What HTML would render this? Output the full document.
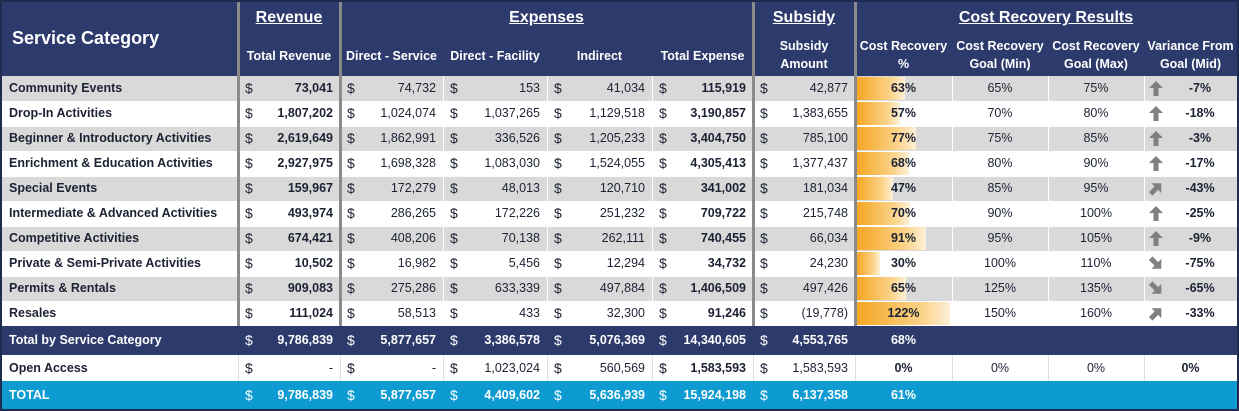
<!DOCTYPE html>
<html><head><meta charset="utf-8">
<style>
body{margin:0;background:#fff;}
#t{position:relative;width:1239px;height:411px;overflow:hidden;background:#1f2b4f;font-family:"Liberation Sans",Arial,sans-serif;color:#1c2233;}
.c{position:absolute;box-sizing:border-box;white-space:nowrap;font-size:12.5px;line-height:25px;}
.h{color:#fff;font-weight:bold;text-align:center;position:absolute;white-space:nowrap;}
</style></head><body>
<div id="t"></div>
<script>
const categories=["Community Events","Drop-In Activities","Beginner & Introductory Activities","Enrichment & Education Activities","Special Events","Intermediate & Advanced Activities","Competitive Activities","Private & Semi-Private Activities","Permits & Rentals","Resales"];
const revenue=["73,041","1,807,202","2,619,649","2,927,975","159,967","493,974","674,421","10,502","909,083","111,024"];
const directService=["74,732","1,024,074","1,862,991","1,698,328","172,279","286,265","408,206","16,982","275,286","58,513"];
const directFacility=["153","1,037,265","336,526","1,083,030","48,013","172,226","70,138","5,456","633,339","433"];
const indirect=["41,034","1,129,518","1,205,233","1,524,055","120,710","251,232","262,111","12,294","497,884","32,300"];
const totalExpense=["115,919","3,190,857","3,404,750","4,305,413","341,002","709,722","740,455","34,732","1,406,509","91,246"];
const subsidy=["42,877","1,383,655","785,100","1,377,437","181,034","215,748","66,034","24,230","497,426","(19,778)"];
const recovery=[63,57,77,68,47,70,91,30,65,122];
const goalMin=[65,70,75,80,85,90,95,100,125,150];
const goalMax=[75,80,85,90,95,100,105,110,135,160];
const variance=[-7,-18,-3,-17,-43,-25,-9,-75,-65,-33];
const arrowDir=[0,0,0,0,45,0,0,135,135,45];

const T=document.getElementById('t');
const cols=[[0,238],[238,340],[340,443],[443,547],[547,652],[652,753],[753,855],[855,952],[952,1048],[1048,1144],[1144,1237]];
function div(cls,x,y,w,h,html,style){const d=document.createElement('div');d.className=cls;d.style.left=x+'px';d.style.top=y+'px';if(w!=null)d.style.width=w+'px';if(h!=null)d.style.height=h+'px';d.innerHTML=html||'';if(style)d.style.cssText+=style;T.appendChild(d);return d;}
let hb=div('c',2,2,1235,74,'','background:#2d3a6c;');


let sc=div('h',12,28,null,null,'Service Category','font-size:18px;text-align:left;');


const groups=[["Revenue",238,340],["Expenses",340,753],["Subsidy",753,855],["Cost Recovery Results",855,1237]];
groups.forEach(g=>{const d=div('h',g[1],8,g[2]-g[1],20,'<u>'+g[0]+'</u>','font-size:16px;line-height:20px;');

});
const subs=["","Total Revenue","Direct - Service","Direct - Facility","Indirect","Total Expense","Subsidy<br>Amount","Cost Recovery<br>%","Cost Recovery<br>Goal (Min)","Cost Recovery<br>Goal (Max)","Variance From<br>Goal (Mid)"];
subs.forEach((s,i)=>{if(!s)return;const two=s.includes('<br>');const d=div('h',cols[i][0],two?37:47,cols[i][1]-cols[i][0],null,s,'font-size:12.5px;line-height:18px;');

});
function money(x,y,w,v,bold,col){return div('c',x,y,w,25,'<span style="position:absolute;left:7px;font-size:14px">$</span><span style="position:absolute;right:7px;'+(bold?'font-weight:bold':'')+'">'+v+'</span>','color:'+(col||'inherit'));}
function addRow(y,h,bg,label,vals,boldIdx,col,nm){
 const r=div('c',2,y,1235,h,'','background:'+bg);
 
 
 const l=div('c',9,y,228,h,label,'font-weight:bold;line-height:'+h+'px;color:'+col);
 
 
 vals.forEach((v,k)=>{const c=cols[k+1];const m=money(c[0],y+(h-25)/2,c[1]-c[0],v,boldIdx.includes(k),col);
 
 });
}
categories.forEach((cat,i)=>{
 const y=76+i*25,bg=i%2?'#ffffff':'#d9d9d9';
 addRow(y,25,bg,cat,[revenue[i],directService[i],directFacility[i],indirect[i],totalExpense[i],subsidy[i]],[0,4],'#1c2233','data-row');
 const bw=Math.min(recovery[i]*0.76,94);
 const bar=div('c',857,y+1,bw,23,'','background:linear-gradient(90deg,#f5a623,#fbd38a 70%,#fdf0d8);');
 
 
 const p=div('c',855,y,97,25,recovery[i]+'%','text-align:center;font-weight:bold;');
 
 
 const g1=div('c',952,y,96,25,goalMin[i]+'%','text-align:center;');
 
 
 const g2=div('c',1048,y,96,25,goalMax[i]+'%','text-align:center;');
 
 
 const a=div('c',1149,y+5,14,15,'<svg width="14" height="15" viewBox="0 0 14 15"><g transform="rotate('+arrowDir[i]+' 7 7.5)"><path d="M7 0 L14 7 L9.5 7 L9.5 15 L4.5 15 L4.5 7 L0 7 Z" fill="#808080"/></g></svg>','line-height:0');
 
 
 const v=div('c',1170,y,60,25,variance[i]+'%','text-align:center;font-weight:bold;');
 
 
});
addRow(326,29,'#2d3a6c','Total by Service Category',["9,786,839","5,877,657","3,386,578","5,076,369","14,340,605","4,553,765"],[0,1,2,3,4,5],'#ffffff','total-by-category-row');
let p1=div('c',855,326,97,29,'68%','text-align:center;font-weight:bold;color:#fff;line-height:29px');


addRow(355,26,'#ffffff','Open Access',["-","-","1,023,024","560,569","1,583,593","1,583,593"],[4],'#1c2233','open-access-row');
[["0%",855,952,1],["0%",952,1048,0],["0%",1048,1144,0],["0%",1144,1237,1]].forEach(o=>{const d=div('c',o[1],355,o[2]-o[1],26,o[0],'text-align:center;line-height:26px;'+(o[3]?'font-weight:bold':''));

});
addRow(381,28,'#0e9bd1','TOTAL',["9,786,839","5,877,657","4,409,602","5,636,939","15,924,198","6,137,358"],[0,1,2,3,4,5],'#ffffff','grand-total-row');
let p2=div('c',855,381,97,28,'61%','text-align:center;font-weight:bold;color:#fff;line-height:28px');


[443,547,652,952,1048,1144].forEach(x=>{div('c',x,76,1,250,'','background:#fff');});
[238,340,443,547,652,753,855,952,1048,1144].forEach(x=>{div('c',x,355,1,26,'','background:#dedede');});
for(let i=1;i<10;i++)div('c',2,76+i*25,1235,1,'','background:rgba(255,255,255,0.9)');
[238,340,753,855].forEach(x=>{div('c',x-1,2,3,324,'','background:#8a8a8a');});
</script>
</body></html>
